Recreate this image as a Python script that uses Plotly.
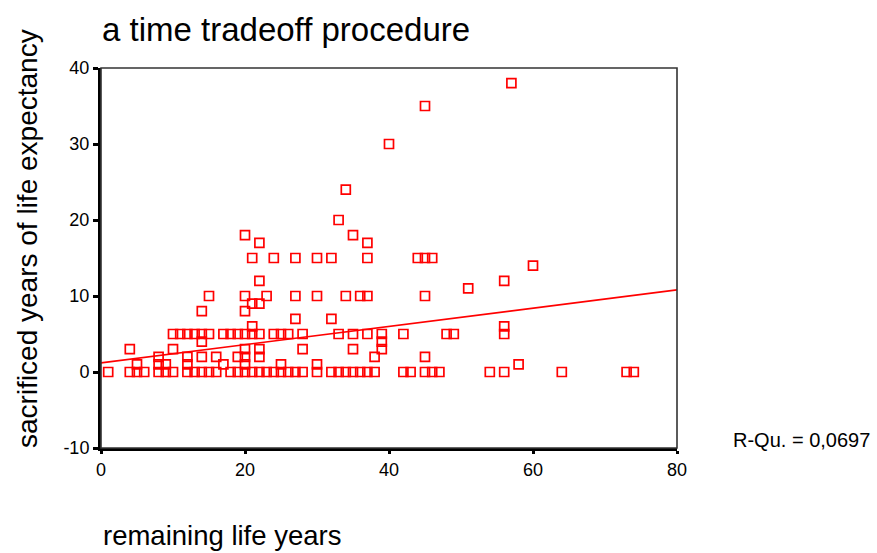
import plotly.graph_objects as go

# remaining life years (x) and sacrificed years of life expectancy (y)
remaining_years = [
    1, 4, 5, 6, 8, 9, 10, 12, 13, 14, 15, 16, 18, 19, 20, 21, 22, 23, 24, 25, 26,
    27, 28, 30, 32, 33, 34, 35, 36, 37, 38, 42, 43, 45, 46, 47, 54, 56, 64, 73, 74,
    5, 8, 9, 12, 17, 20, 25, 30, 58,
    8, 12, 14, 16, 19, 20, 22, 38, 45,
    4, 10, 20, 22, 28, 35, 39,
    14, 39,
    10, 11, 12, 13, 14, 15, 17, 18, 19, 20, 21, 22, 24, 25, 26, 28, 33, 35, 37, 39, 42, 48, 49, 56,
    21, 56,
    27, 32,
    14, 20,
    21, 22,
    15, 20, 23, 27, 30, 34, 36, 37, 45,
    51, 22, 56, 60,
    21, 24, 27, 30, 32, 37, 44, 45, 46,
    22, 37, 35, 20, 33, 34,
    40, 45, 57,
]
sacrificed_years = [
    0, 0, 0, 0, 0, 0, 0, 0, 0, 0, 0, 0, 0, 0, 0, 0, 0, 0, 0, 0, 0,
    0, 0, 0, 0, 0, 0, 0, 0, 0, 0, 0, 0, 0, 0, 0, 0, 0, 0, 0, 0,
    1, 1, 1, 1, 1, 1, 1, 1, 1,
    2, 2, 2, 2, 2, 2, 2, 2, 2,
    3, 3, 3, 3, 3, 3, 3,
    4, 4,
    5, 5, 5, 5, 5, 5, 5, 5, 5, 5, 5, 5, 5, 5, 5, 5, 5, 5, 5, 5, 5, 5, 5, 5,
    6, 6,
    7, 7,
    8, 8,
    9, 9,
    10, 10, 10, 10, 10, 10, 10, 10, 10,
    11, 12, 12, 14,
    15, 15, 15, 15, 15, 15, 15, 15, 15,
    17, 17, 18, 18, 20, 24,
    30, 35, 38,
]

# linear fit
fit_intercept = 1.2
fit_slope = 0.12
r_squared_label = "R-Qu. = 0,0697"

x_range = [0, 80]
y_range = [-10, 40]
x_ticks = [0, 20, 40, 60, 80]
x_ticktext = ["0", "20", "40", "60", "80"]
y_ticks = [-10, 0, 10, 20, 30, 40]
y_ticktext = ["-10", "0", "10", "20", "30", "40"]

title_text = "a time tradeoff procedure"
x_title = "remaining life years"
y_title = "sacrificed years of life expectancy"

RED = "#ff0000"
FONT = "Liberation Sans, Arial, sans-serif"
W, H = 877, 553
L, R, T, B = 101, 200, 68, 105
PW, PH = W - L - R, H - T - B

fig = go.Figure()
fig.add_trace(go.Scatter(
    x=remaining_years, y=sacrificed_years, mode="markers",
    marker=dict(symbol="square-open", size=9, color=RED, line=dict(width=1.7, color=RED)),
    showlegend=False, cliponaxis=False,
))
fig.add_trace(go.Scatter(
    x=x_range, y=[fit_intercept + fit_slope * v for v in x_range], mode="lines",
    line=dict(color=RED, width=1.7), showlegend=False,
))

fig.update_layout(
    width=W, height=H,
    margin=dict(l=L, r=R, t=T, b=B),
    paper_bgcolor="white", plot_bgcolor="white",
    font=dict(family=FONT, color="black"),
    title=dict(text=title_text, x=102 / W, xanchor="left", y=1 - 29 / H, yanchor="middle",
               font=dict(size=33, family=FONT)),
    shapes=[dict(type="rect", xref="paper", yref="paper", x0=0, y0=0, x1=1, y1=1,
                 line=dict(color="#333333", width=1.6), layer="above")],
    annotations=[
        dict(text=r_squared_label, xref="paper", yref="paper", x=(731 - L) / PW, y=(H - B - 440) / PH,
             xanchor="left", yanchor="middle", showarrow=False, font=dict(size=20, family=FONT)),
        dict(text=x_title, xref="paper", yref="paper", x=(101 - L) / PW, y=(H - B - 535) / PH,
             xanchor="left", yanchor="middle", showarrow=False, font=dict(size=27.5, family=FONT)),
        dict(text=y_title, xref="paper", yref="paper", x=(28 - L) / PW, y=(H - B - 239) / PH,
             xanchor="center", yanchor="middle", textangle=-90, showarrow=False,
             font=dict(size=28, family=FONT)),
    ],
)
fig.update_xaxes(range=x_range, tickvals=x_ticks, ticktext=x_ticktext, showgrid=False, zeroline=False,
                 showline=True, linecolor="black", linewidth=3, ticks="outside", ticklen=3, tickwidth=3,
                 tickcolor="black", tickfont=dict(size=18, family=FONT), automargin=False)
fig.update_yaxes(range=y_range, tickvals=y_ticks, ticktext=y_ticktext, showgrid=False, zeroline=False,
                 showline=True, linecolor="black", linewidth=3, ticks="outside", ticklen=5, tickwidth=3,
                 tickcolor="black", tickfont=dict(size=18, family=FONT), automargin=False)

fig.write_html("out.html", config={"displayModeBar": False},
               post_script="document.body.style.margin='0';document.body.style.overflow='hidden';")
